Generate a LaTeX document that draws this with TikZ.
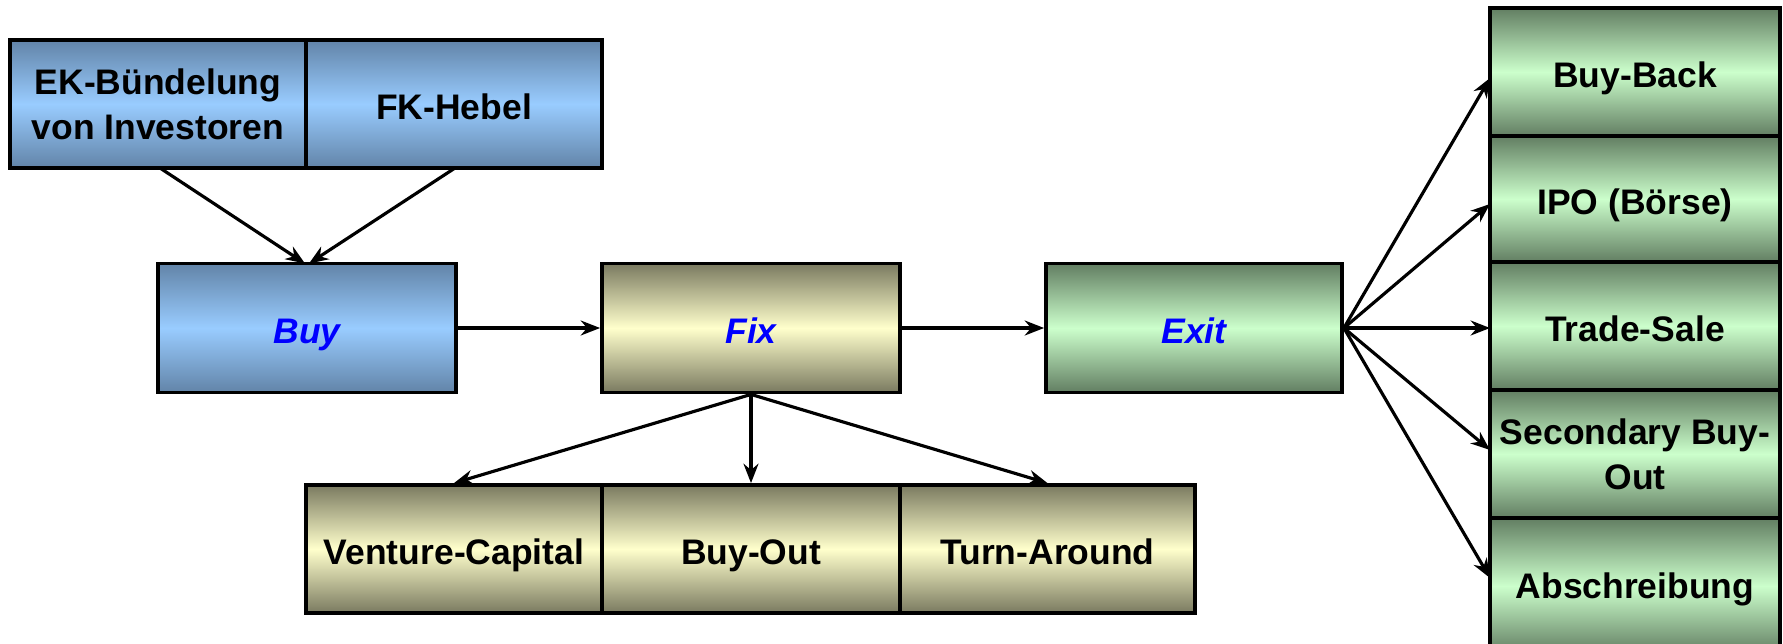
\documentclass[tikz,border=0pt]{standalone}
\usepackage{fontspec}
\setmainfont{Liberation Sans}
\usetikzlibrary{arrows.meta}
\definecolor{bluedark}{RGB}{98,132,168}
\definecolor{bluelight}{RGB}{153,204,255}
\definecolor{tandark}{RGB}{122,122,96}
\definecolor{tanlight}{RGB}{255,255,204}
\definecolor{greendark}{RGB}{98,126,98}
\definecolor{greenlight}{RGB}{204,255,204}
\definecolor{phaseblue}{RGB}{0,0,255}
\begin{document}
\begin{tikzpicture}[x=0.02cm,y=-0.02cm,
  box/.style={draw=black,line width=2.2pt,inner sep=0pt,
    font=\fontsize{20.2}{25.5}\selectfont\bfseries},
  one/.style={text height=18.2pt,text depth=1pt},
  bluebox/.style={box,top color=bluedark,bottom color=bluedark,middle color=bluelight},
  tanbox/.style={box,top color=tandark,bottom color=tandark,middle color=tanlight},
  greenbox/.style={box,top color=greendark,bottom color=greendark,middle color=greenlight},
  phase/.style={font=\fontsize{20.2}{25.5}\selectfont\bfseries\itshape,text=phaseblue,one},
  conn/.style={line width=1.8pt,-{Stealth[length=11pt,width=8.5pt]}}
]
\useasboundingbox (0,0) rectangle (1783,643);
\begin{scope}
\clip (0,0) rectangle (1783,643);
% top boxes
\node[bluebox,align=center,minimum width=5.92cm,minimum height=2.56cm] (ek) at (158,104) {EK-Bündelung\\von Investoren};
\node[bluebox,one,minimum width=5.92cm,minimum height=2.56cm] (fk) at (454,104) {FK-Hebel};
% main row
\node[bluebox,minimum width=5.96cm,minimum height=2.58cm] (buy) at (307,328) {};
\node[phase] at (buy) {Buy};
\node[tanbox,minimum width=5.96cm,minimum height=2.58cm] (fix) at (751,328) {};
\node[phase] at (fix) {Fix};
\node[greenbox,minimum width=5.92cm,minimum height=2.58cm] (exit) at (1194,328) {};
\node[phase] at (exit) {Exit};
% bottom row
\node[tanbox,one,minimum width=5.92cm,minimum height=2.56cm] (vc) at (454,549) {Venture-Capital};
\node[tanbox,one,minimum width=5.96cm,minimum height=2.56cm] (bo) at (751,549) {Buy-Out};
\node[tanbox,one,minimum width=5.90cm,minimum height=2.56cm] (ta) at (1047.5,549) {Turn-Around};
% right column
\node[greenbox,one,minimum width=5.8cm,minimum height=2.56cm] (bb) at (1635,72) {Buy-Back};
\node[greenbox,one,minimum width=5.8cm,minimum height=2.52cm] (ipo) at (1635,199) {IPO (Börse)};
\node[greenbox,one,minimum width=5.8cm,minimum height=2.56cm] (ts) at (1635,326) {Trade-Sale};
\node[greenbox,align=center,minimum width=5.8cm,minimum height=2.56cm] (sb) at (1635,454) {Secondary Buy-\\Out};
\node[greenbox,minimum width=5.8cm,minimum height=2.72cm] (ab) at (1635,586) {};
\node[font=\fontsize{20.2}{25.5}\selectfont\bfseries,one] (abt) at (1635,583) {Abschreibung};
% connectors
\coordinate (ekb) at (160,168);
\coordinate (fkb) at (455,168);
\coordinate (buyt1) at (305,263.5);
\coordinate (buyt2) at (309,263.5);
\draw[conn] (ekb) -- (buyt1);
\draw[conn] (fkb) -- (buyt2);
\draw[conn] (buy.east) -- (fix.west);
\draw[conn] (fix.east) -- (exit.west);
\draw[conn] (fix.south) -- (vc.north);
\draw[conn] (fix.south) -- (bo.north);
\draw[conn] (fix.south) -- (ta.north);
\coordinate (ex) at (exit.east);
\draw[conn] (ex) -- (1490,78);
\draw[conn] (ex) -- (1490,204);
\draw[conn] (ex) -- (1490,328);
\draw[conn] (ex) -- (1490,450);
\draw[conn] (ex) -- (1490,578);
\end{scope}
\end{tikzpicture}
\end{document}
